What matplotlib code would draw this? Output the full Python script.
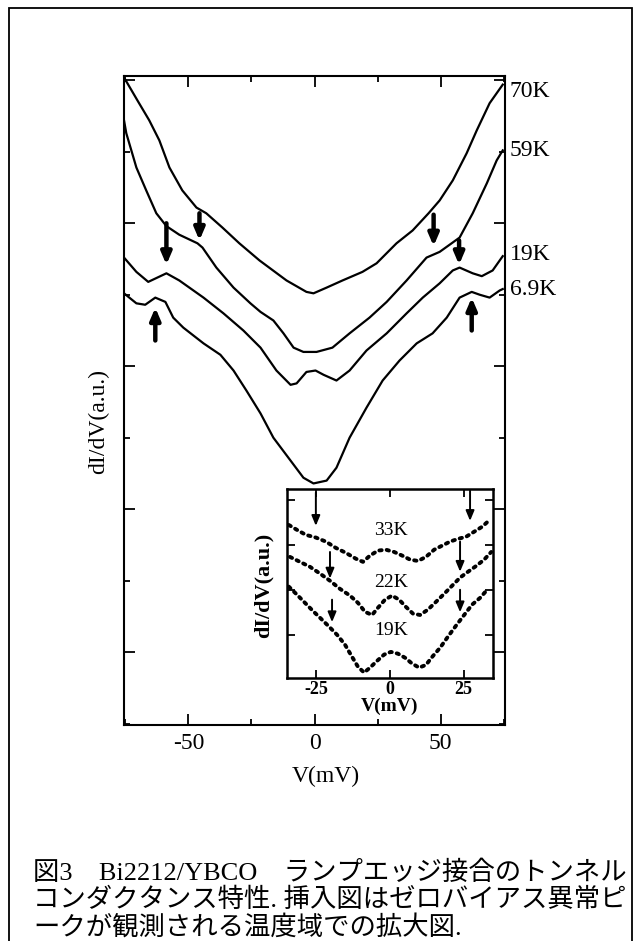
import matplotlib.pyplot as plt
from matplotlib.patches import Rectangle
from matplotlib.ticker import MultipleLocator

plt.rcParams['font.family'] = ['Liberation Serif', 'Noto Sans CJK JP']
plt.rcParams['axes.unicode_minus'] = False

# main panel: V (mV) and dI/dV (a.u., curves offset as in the figure)
v_70 = [-75.5, -70.2, -65.5, -61.5, -57.5, -52.4, -46.8, -42.9, -36.5, -29.8, -21.8, -11.1, -3.2, -0.4,
        4.8, 11.1, 19.0, 24.6, 32.5, 38.9, 45.2, 49.6, 54.8, 60.3, 64.3, 69.4, 74.6]
g_70 = [5.02, 4.86, 4.72, 4.58, 4.39, 4.23, 4.11, 4.07, 3.97, 3.86, 3.74, 3.60, 3.52, 3.51,
        3.55, 3.60, 3.66, 3.72, 3.86, 3.95, 4.07, 4.16, 4.30, 4.49, 4.65, 4.84, 4.97]

v_59 = [-75.5, -74.6, -72.6, -70.6, -66.7, -62.7, -58.7, -53.6, -46.4, -44.4, -38.9, -32.1, -25.4, -21.4,
        -16.3, -12.3, -8.3, -4.4, 0.8, 7.1, 13.9, 21.8, 28.6, 36.5, 44.4, 49.6, 57.5, 62.7, 68.3, 72.2, 74.6]
g_59 = [4.72, 4.63, 4.51, 4.39, 4.23, 4.07, 3.98, 3.92, 3.86, 3.83, 3.69, 3.55, 3.44, 3.38,
        3.32, 3.23, 3.13, 3.10, 3.10, 3.13, 3.23, 3.34, 3.45, 3.60, 3.76, 3.80, 3.90, 4.07, 4.28, 4.44, 4.51]

v_19 = [-75.5, -70.6, -65.9, -62.3, -58.7, -53.6, -52.0, -44.0, -36.1, -28.2, -21.4, -15.1, -9.5, -7.1,
        -3.2, 0.4, 3.6, 8.7, 13.9, 20.6, 28.6, 36.5, 42.9, 49.6, 54.8, 57.5, 62.7, 66.3, 70.6, 74.6]
g_19 = [3.76, 3.66, 3.59, 3.62, 3.65, 3.60, 3.58, 3.48, 3.37, 3.25, 3.13, 2.97, 2.87, 2.88,
        2.96, 2.97, 2.94, 2.90, 2.97, 3.11, 3.23, 3.37, 3.48, 3.58, 3.67, 3.69, 3.65, 3.63, 3.67, 3.77]

v_69 = [-75.5, -70.6, -67.1, -63.1, -59.1, -56.0, -52.0, -44.0, -37.3, -32.1, -27.0, -21.4, -16.3, -9.5,
        -4.4, -0.4, 4.8, 8.7, 13.9, 20.6, 27.0, 33.7, 40.5, 46.8, 52.4, 57.5, 62.3, 65.5, 69.4, 73.4, 74.6]
g_69 = [3.51, 3.44, 3.43, 3.48, 3.45, 3.34, 3.27, 3.16, 3.08, 2.97, 2.83, 2.67, 2.50, 2.34,
        2.22, 2.18, 2.20, 2.29, 2.50, 2.71, 2.90, 3.04, 3.16, 3.23, 3.34, 3.48, 3.52, 3.50, 3.48, 3.53, 3.54]

temps = ['70K', '59K', '19K', '6.9K']
temp_y = [4.92, 4.51, 3.78, 3.54]

# arrows: V, tail, tip
arrow_v = [-45.6, 47.2, -58.7, 57.3, -63.1, 62.3]
arrow_tail = [4.07, 4.06, 4.00, 3.88, 3.18, 3.25]
arrow_tip = [3.88, 3.84, 3.71, 3.71, 3.41, 3.48]

# inset: enlarged low-bias region
iv_33 = [-34.4, -31.6, -28.6, -25.2, -21.8, -18.4, -15.0, -11.6, -9.2, -6.8, -4.1, -1.4, 1.4,
         4.1, 6.8, 9.5, 12.2, 15.0, 17.7, 20.4, 23.1, 25.9, 28.6, 31.3, 34.0]
ig_33 = [3.44, 3.33, 3.22, 3.16, 3.07, 2.93, 2.82, 2.69, 2.62, 2.76, 2.87, 2.89, 2.84,
         2.76, 2.67, 2.64, 2.73, 2.89, 2.98, 3.07, 3.13, 3.18, 3.29, 3.40, 3.56]

iv_22 = [-34.0, -30.6, -27.2, -23.8, -20.4, -17.0, -13.6, -10.9, -8.5, -6.1, -4.1, -1.7, 0.7,
         3.1, 5.4, 7.8, 10.2, 12.9, 15.6, 18.4, 21.1, 23.8, 26.5, 29.3, 32.0, 34.4]
ig_22 = [2.73, 2.62, 2.51, 2.36, 2.20, 2.02, 1.87, 1.71, 1.51, 1.44, 1.60, 1.78, 1.87,
         1.78, 1.62, 1.47, 1.44, 1.56, 1.73, 1.91, 2.09, 2.27, 2.40, 2.53, 2.67, 2.84]

iv_19 = [-34.4, -31.6, -28.9, -26.2, -23.5, -20.7, -18.0, -15.3, -12.9, -10.9, -8.8, -6.8, -4.4, -2.0,
         0.3, 2.7, 5.1, 7.5, 9.9, 12.2, 14.6, 17.0, 19.7, 22.4, 25.2, 27.9, 30.6, 33.3]
ig_19 = [2.07, 1.89, 1.71, 1.53, 1.36, 1.18, 1.00, 0.78, 0.51, 0.29, 0.16, 0.27, 0.42, 0.56,
         0.62, 0.58, 0.49, 0.36, 0.27, 0.33, 0.53, 0.71, 0.96, 1.20, 1.44, 1.67, 1.82, 2.02]

inset_temps = ['33K', '22K', '19K']
inset_temp_y = [3.31, 2.16, 1.09]

inset_arrow_v = [-25.2, 27.2, -20.4, 23.8, -19.7, 23.8]
inset_arrow_tail = [4.16, 4.20, 2.84, 3.07, 1.78, 2.00]
inset_arrow_tip = [3.42, 3.53, 2.25, 2.40, 1.28, 1.50]

caption = ['図3　Bi2212/YBCO　ランプエッジ接合のトンネル',
           'コンダクタンス特性. 挿入図はゼロバイアス異常ピ',
           'ークが観測される温度域での拡大図.']

fig = plt.figure(figsize=(6.35, 9.41), dpi=100)

# outer frame
fig.patches.append(Rectangle((0.0142, -0.02), 0.981, 1.0115, transform=fig.transFigure,
                             fill=False, lw=1.3, ec='black', clip_on=False))

ax = fig.add_axes([0.1953, 0.2295, 0.600, 0.6897])
for v, g in [(v_70, g_70), (v_59, g_59), (v_19, g_19), (v_69, g_69)]:
    ax.plot(v, g, color='black', lw=1.6)
ax.set_xlim(-75.5, 75.5)
ax.set_ylim(0.49, 5.03)

for v, t0, t1 in zip(arrow_v, arrow_tail, arrow_tip):
    ax.annotate('', xy=(v, t1), xytext=(v, t0),
                arrowprops=dict(arrowstyle='-|>,head_length=0.7,head_width=0.3',
                                lw=3.2, color='black', mutation_scale=10,
                                shrinkA=0, shrinkB=0))

for t, y in zip(temps, temp_y):
    ax.text(1.013, y, t, transform=ax.get_yaxis_transform(), fontsize=17,
            ha='left', va='center')

ax.xaxis.set_major_locator(MultipleLocator(50))
ax.xaxis.set_minor_locator(MultipleLocator(25))
ax.yaxis.set_major_locator(MultipleLocator(1))
ax.yaxis.set_minor_locator(MultipleLocator(0.5))
ax.set_yticklabels([])
ax.tick_params(which='both', direction='in', top=True, right=True, width=1.3)
ax.tick_params(which='major', length=8)
ax.tick_params(which='minor', length=4)
ax.tick_params(axis='x', labelsize=17, pad=6)
for s in ax.spines.values():
    s.set_linewidth(1.5)

ax.set_xlabel('V(mV)', fontsize=17)
ax.xaxis.set_label_coords(0.53, -0.079)
ax.xaxis.label.set_va('center')
ax.set_ylabel('dI/dV(a.u.)', fontsize=17)
ax.yaxis.set_label_coords(-0.066, 0.468)
ax.yaxis.label.set_va('center')

# inset
ins = fig.add_axes([0.452, 0.2795, 0.3244, 0.2009])
for v, g in [(iv_33, ig_33), (iv_22, ig_22), (iv_19, ig_19)]:
    ins.plot(v, g, color='black', lw=2.8, ls=(0, (0.6, 1.3)), dash_capstyle='round')
ins.set_xlim(-35, 35)
ins.set_ylim(0.04, 4.24)

for v, t0, t1 in zip(inset_arrow_v, inset_arrow_tail, inset_arrow_tip):
    ins.annotate('', xy=(v, t1), xytext=(v, t0),
                 arrowprops=dict(arrowstyle='-|>,head_length=0.6,head_width=0.25',
                                 lw=1.4, color='black', mutation_scale=10,
                                 shrinkA=0, shrinkB=0))

for t, y in zip(inset_temps, inset_temp_y):
    ins.text(0.3, y, t, fontsize=14, ha='center', va='center',
             bbox=dict(fc='white', ec='none', pad=0.5))

ins.set_xticks([-25, 0, 25])
ins.yaxis.set_major_locator(MultipleLocator(1))
ins.set_yticklabels([])
ins.tick_params(direction='in', top=True, right=True, length=6, width=1.3)
ins.tick_params(axis='x', labelsize=13, pad=2)
for lab in ins.get_xticklabels():
    lab.set_fontweight('bold')
for s in ins.spines.values():
    s.set_linewidth(1.8)
ins.set_xlabel('V(mV)', fontsize=14, fontweight='bold', labelpad=0)
ins.set_ylabel('dI/dV(a.u.)', fontsize=16, fontweight='bold')
ins.yaxis.set_label_coords(-0.112, 0.49)
ins.yaxis.label.set_va('center')

# caption
for i, line in enumerate(caption):
    fig.text(0.052, 1 - (873 + 27 * i) / 941, line, fontsize=19, ha='left', va='center')

fig.savefig('out.png', dpi=100)
